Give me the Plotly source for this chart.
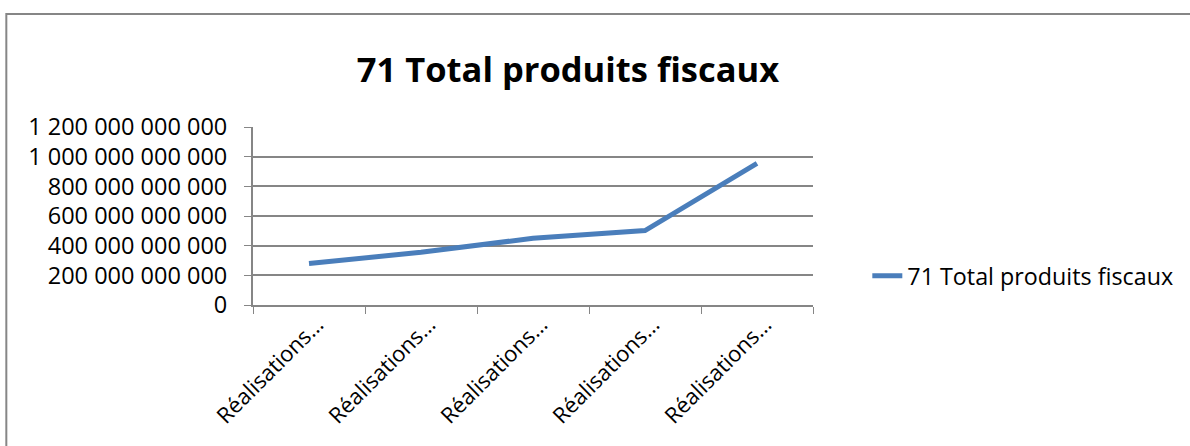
import plotly.graph_objects as go

# Données
categories = ["Réalisations 1", "Réalisations 2", "Réalisations 3",
              "Réalisations 4", "Réalisations 5"]
tick_labels = ["Réalisations…"] * 5
valeurs = [280e9, 355e9, 450e9, 502e9, 955e9]
serie = "71 Total produits fiscaux"

FONT = "Open Sans"
GRIS = "#868686"

L, T, PW, PH = 253, 127, 563, 178

fig = go.Figure()

fig.add_trace(go.Scatter(
    x=categories,
    y=valeurs,
    mode="lines",
    name=serie,
    line=dict(color="#4A7EBB", width=5),
))

fig.update_layout(
    width=1190,
    height=446,
    margin=dict(l=L, r=1190 - L - PW, t=T, b=446 - T - PH),
    paper_bgcolor="white",
    plot_bgcolor="white",
    separators=", ",
    font=dict(family=FONT, size=22, color="black"),
    title=dict(
        text="<b>71 Total produits fiscaux</b>",
        font=dict(family=FONT, size=34.5, color="black"),
        x=568 / 1190,
        xanchor="center",
        y=1 - 70 / 446,
        yanchor="middle",
    ),
    showlegend=True,
    legend=dict(
        x=1.097,
        y=0.163,
        xanchor="left",
        yanchor="middle",
        font=dict(family=FONT, size=23.3),
        bgcolor="rgba(0,0,0,0)",
    ),
    xaxis=dict(
        type="category",
        tickmode="array",
        tickvals=categories,
        ticktext=tick_labels,
        tickangle=-45,
        tickson="boundaries",
        ticks="outside",
        ticklen=7,
        tickcolor=GRIS,
        ticklabelshift=8,
        ticklabelstandoff=-4,
        showline=True,
        linecolor=GRIS,
        linewidth=2,
        showgrid=False,
        range=[-0.5, 4.5],
        tickfont=dict(family=FONT, size=22),
    ),
    yaxis=dict(
        range=[0, 1.2e12],
        dtick=2e11,
        tickformat=",d",
        ticks="outside",
        ticklen=7,
        tickcolor=GRIS,
        ticklabelstandoff=12,
        showline=True,
        linecolor=GRIS,
        linewidth=2,
        showgrid=True,
        gridcolor=GRIS,
        gridwidth=2,
        zeroline=False,
        tickfont=dict(family=FONT, size=23.5),
    ),
)

# cadre du graphique
fig.add_shape(
    type="rect",
    xref="paper", yref="paper",
    x0=(5 - L) / PW, x1=1.8,
    y0=-1.0, y1=(T + PH - 14) / PH,
    line=dict(color=GRIS, width=2),
    layer="below",
)

# pas de marge autour du graphique dans la page
fig.write_html("out.html", config={"displayModeBar": False},
               post_script="document.body.style.margin='0';")
